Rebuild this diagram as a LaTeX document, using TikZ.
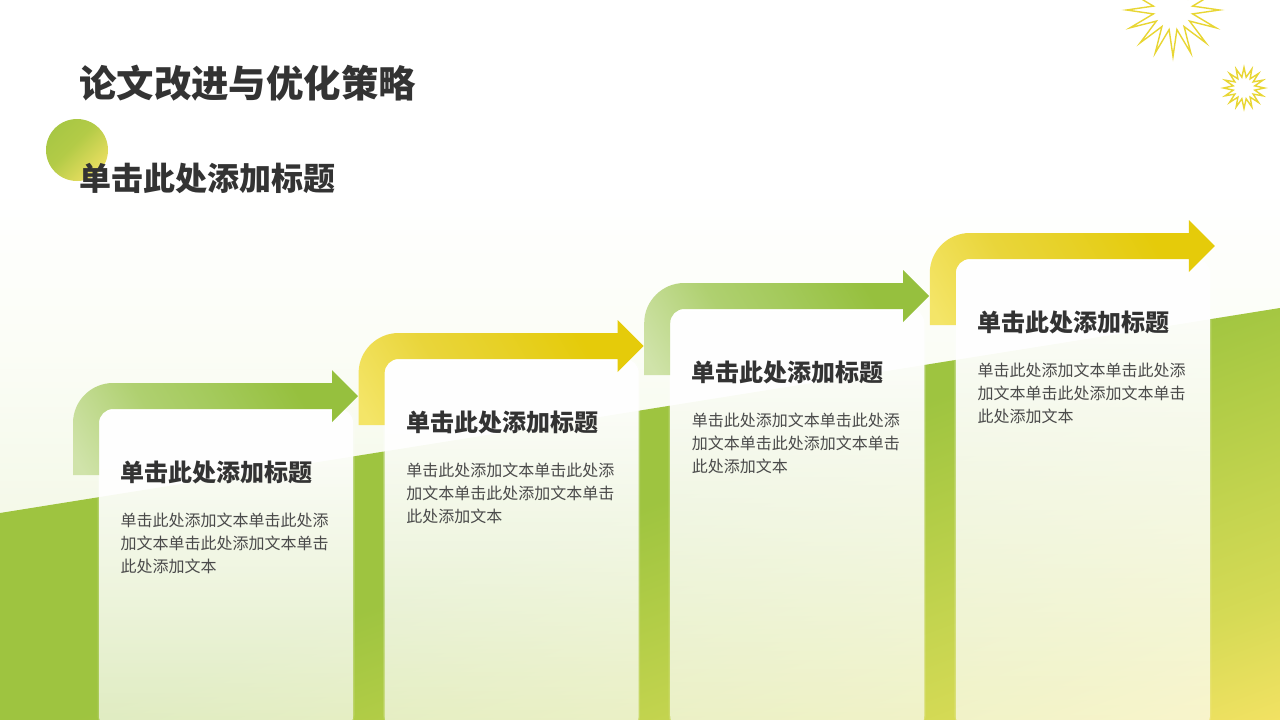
\documentclass[tikz,border=0pt]{standalone}
\usepackage{fontspec}
\setmainfont{Noto Sans CJK SC}
\usetikzlibrary{fadings}
\definecolor{inkdark}{HTML}{333333}
\definecolor{inkbody}{HTML}{4A4A4A}
\definecolor{stary}{HTML}{E8D633}
\definecolor{gA}{HTML}{9EC440}\definecolor{gB}{HTML}{B0CC46}\definecolor{gC}{HTML}{C4D44F}\definecolor{gD}{HTML}{D5DA55}\definecolor{gE}{HTML}{F3E263}
\definecolor{bgA}{HTML}{EDF2CE}\definecolor{bgB}{HTML}{F5F9EA}\definecolor{bgC}{HTML}{FBFDF6}
\definecolor{aA}{HTML}{D0E3AA}\definecolor{aB}{HTML}{AFD070}\definecolor{aC}{HTML}{A4CA5C}\definecolor{aD}{HTML}{96C03E}
\definecolor{yA}{HTML}{F4E568}\definecolor{yB}{HTML}{E9D53A}\definecolor{yC}{HTML}{E7D127}\definecolor{yD}{HTML}{E5CB0A}
\definecolor{dA}{HTML}{A8C744}\definecolor{dB}{HTML}{B3CB47}\definecolor{dC}{HTML}{ECDF62}
\pgfdeclareverticalshading{bgshade}{100bp}{color(0bp)=(bgA); color(25bp)=(bgA); color(40.3bp)=(bgB); color(50.7bp)=(bgC); color(61.8bp)=(white); color(100bp)=(white)}
\pgfdeclarehorizontalshading{groundshade}{100bp}{color(0bp)=(gA); color(54.6bp)=(gA); color(57.9bp)=(gB); color(61.6bp)=(gC); color(64.8bp)=(gD); color(68.8bp)=(gE); color(100bp)=(gE)}
\pgfdeclarehorizontalshading{greenshade}{100bp}{color(0bp)=(aA); color(18bp)=(aA); color(38bp)=(aB); color(52bp)=(aC); color(70bp)=(aD); color(100bp)=(aD)}
\pgfdeclarehorizontalshading{yellowshade}{100bp}{color(0bp)=(yA); color(18bp)=(yA); color(38bp)=(yB); color(52bp)=(yC); color(70bp)=(yD); color(100bp)=(yD)}
\pgfdeclarehorizontalshading{dotshade}{100bp}{color(0bp)=(dA); color(25bp)=(dA); color(45bp)=(dB); color(75bp)=(dC); color(100bp)=(dC)}
\tikzfading[name=cardfade, top color=transparent!0, bottom color=transparent!38]
\tikzfading[name=cardfadeb, top color=transparent!75, bottom color=transparent!88]
\tikzset{
  x=1pt,y=-1pt,
  titletext/.style={anchor=west,inner sep=0pt,font=\fontsize{37.4}{42}\selectfont\bfseries,text=inkdark},
  subtext/.style={anchor=west,inner sep=0pt,font=\fontsize{32}{36}\selectfont\bfseries,text=inkdark},
  cardtitle/.style={anchor=west,inner sep=0pt,font=\fontsize{24}{28}\selectfont\bfseries,text=inkdark},
  cardbody/.style={anchor=north west,inner sep=0pt,align=left,font=\fontsize{16}{23}\selectfont,text=inkbody},
  greenarrow/.style={shading=greenshade,shading angle=30},
  yellowarrow/.style={shading=yellowshade,shading angle=30},
  starline/.style={draw=stary,fill=white,line width=1.4pt,line join=miter,miter limit=20},
}
\begin{document}
\begin{tikzpicture}
\useasboundingbox (0,0) rectangle (1280,720);
\clip (0,0) rectangle (1280,720);
% background
\path[shading=bgshade] (0,0) rectangle (1280,720);
\begin{scope}
  \clip (0,513) -- (1280,308) -- (1280,720) -- (0,720) -- cycle;
  \path[shading=groundshade,shading angle=-69.6] (-110,-390) rectangle (1390,1110);
\end{scope}
% stars
\path[starline,shift={(1173,10)}] (0:46.5)
  \foreach \k [evaluate=\k as \rr using {mod(\k,2)==0 ? 46.5 : 20}] in {1,...,31} { -- (\k*11.25:\rr) } -- cycle;
\path[starline,line width=1.4pt,shift={(1244,88)}] (0:20.5)
  \foreach \k [evaluate=\k as \rr using {mod(\k,2)==0 ? 20.5 : 11}] in {1,...,31} { -- (\k*11.25:\rr) } -- cycle;
% bullet circle
\path[shading=dotshade,shading angle=-45] (77,150) circle[radius=31];
% headings
\node[titletext] (title) at (79,83) {论文改进与优化策略};
\node[subtext] (subtitle) at (79,178) {单击此处添加标题};
% cards and arrows
\foreach \i/\sty/\low in {0/greenarrow/730,1/yellowarrow/780,2/greenarrow/830,3/yellowarrow/880}{
  \begin{scope}[shift={(285.6*\i,-50*\i)}]
    \path[fill=white,path fading=cardfadeb] (97.5,407.5) [rounded corners=15] rectangle (354.5,\low);
    \path[fill=white,path fading=cardfade] (99,409) [rounded corners=14] rectangle (353,\low);
    \path[\sty] (73,475) -- (73,423) .. controls (73,401) and (91,383) .. (113,383)
      -- (332,383) -- (332,370) -- (358,396) -- (332,422) -- (332,409) -- (113,409)
      .. controls (105.3,409) and (99,415.3) .. (99,423) -- (99,475) -- cycle;
    \node[cardtitle] (head\i) at (120.5,472.5) {单击此处添加标题};
    \node[cardbody] (body\i) at (120.5,513) {单击此处添加文本单击此处添\\加文本单击此处添加文本单击\\此处添加文本};
  \end{scope}
}
\end{tikzpicture}
\end{document}
